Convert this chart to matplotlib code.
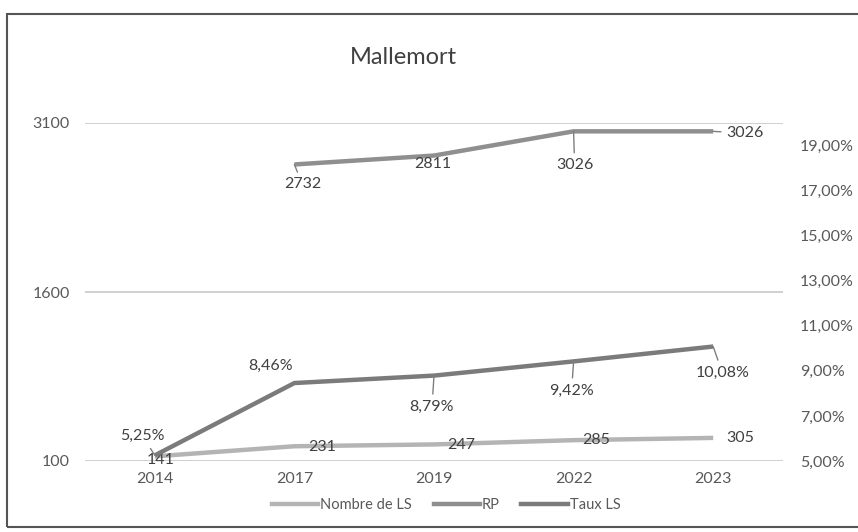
import matplotlib
matplotlib.use("Agg")
import matplotlib.pyplot as plt
from matplotlib.patches import Rectangle
from matplotlib.lines import Line2D

plt.rcParams['font.family'] = ['Lato', 'DejaVu Sans']

years = ["2014", "2017", "2019", "2022", "2023"]
nombre_ls = [141, 231, 247, 285, 305]
rp = [None, 2732, 2811, 3026, 3026]
taux_ls = [5.25, 8.46, 8.79, 9.42, 10.08]

left_ticks = [100, 1600, 3100]
right_ticks = [5, 7, 9, 11, 13, 15, 17, 19]

W, H = 858, 532
fig = plt.figure(figsize=(W / 100, H / 100), dpi=100)
fig.patches.append(Rectangle((7 / W, 5 / H), 1.0, 1 - 19 / H, transform=fig.transFigure,
                             fill=False, edgecolor='#555555', linewidth=1.5))

ax = fig.add_axes([85 / W, 1 - 461 / H, 698 / W, 338 / H])
ax2 = ax.twinx()

x = list(range(len(years)))
c_ls, c_rp, c_tx = '#b4b4b4', '#8f8f8f', '#7b7b7b'
lw = 3.2

ax.plot(x, nombre_ls, color=c_ls, lw=lw, solid_capstyle='butt', zorder=3)
xr = [i for i, v in zip(x, rp) if v is not None]
vr = [v for v in rp if v is not None]
ax.plot(xr, vr, color=c_rp, lw=lw, solid_capstyle='butt', zorder=3)
ax2.plot(x, taux_ls, color=c_tx, lw=lw, solid_capstyle='butt', zorder=3)

ax.set_xlim(-0.5, len(years) - 0.5)
ax.set_ylim(100, 3100)
ax2.set_ylim(5, 20)
ax.set_yticks(left_ticks)
ax.set_yticklabels([str(t) for t in left_ticks])
ax2.set_yticks(right_ticks)
ax2.set_yticklabels([f"{t:.2f}%".replace('.', ',') for t in right_ticks])
ax.set_xticks(x)
ax.set_xticklabels(years)

for a in (ax, ax2):
    for s in a.spines.values():
        s.set_visible(False)
    a.tick_params(length=0, labelsize=11.5, colors='#595959')
ax.tick_params(axis='y', pad=11)
ax2.tick_params(axis='y', pad=12)
ax.tick_params(axis='x', pad=8)
ax.grid(axis='y', color='#c8c8c8', lw=1.2)
ax.set_axisbelow(True)

txt = dict(fontsize=11.5, color='#404040', ha='center', va='center')

def lab(a, xi, yi, s, dx, dy, leader=False):
    kw = {}
    if leader:
        kw['arrowprops'] = dict(arrowstyle='-', color='#7f7f7f', lw=1, shrinkA=2, shrinkB=0)
    a.annotate(s, (xi, yi), xytext=(dx, dy), textcoords='offset pixels', zorder=5, **txt, **kw)

fmt = lambda v: f"{v:.2f}%".replace('.', ',')
tx_off = [(-12, 19, True), (-24, 17, False), (-2, -31, True), (-2, -29, True), (9, -26, True)]
for i, (v, o) in enumerate(zip(taux_ls, tx_off)):
    lab(ax2, i, v, fmt(v), *o)

rp_off = [None, (8, -20, True), (-1, -8, False), (1, -34, True), (32, -2, True)]
for i, (v, o) in enumerate(zip(rp, rp_off)):
    if v is not None:
        lab(ax, i, v, str(v), *o)

ls_off = [(6, -4, False), (28, -1, False), (27, -1, False), (23, 0, False), (27, 0, False)]
for i, (v, o) in enumerate(zip(nombre_ls, ls_off)):
    lab(ax, i, v, str(v), *o)

fig.text(403 / W, 1 - 57 / H, "Mallemort", fontsize=17, color='#404040', ha='center', va='center')

handles = [Line2D([], [], color=c_ls, lw=lw), Line2D([], [], color=c_rp, lw=lw),
           Line2D([], [], color=c_tx, lw=lw)]
fig.legend(handles, ["Nombre de LS", "RP", "Taux LS"], loc='center', bbox_to_anchor=(446 / W, 1 - 505 / H),
           ncol=3, frameon=False, fontsize=10.5, labelcolor='#595959', handlelength=3.2,
           handletextpad=0.1, columnspacing=1.5)

fig.savefig("out.png", dpi=100)
